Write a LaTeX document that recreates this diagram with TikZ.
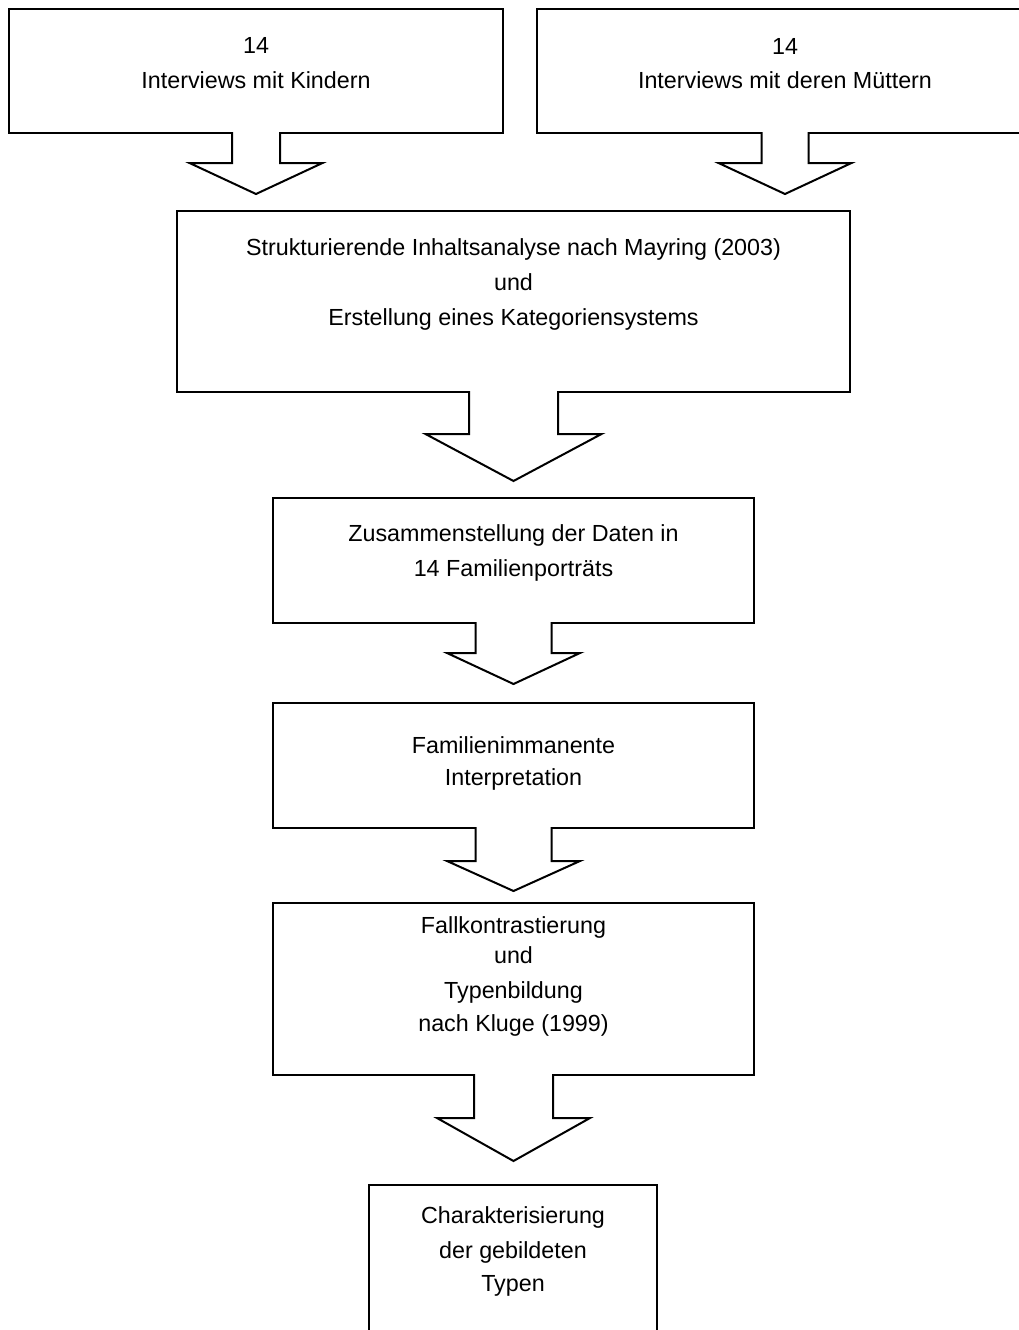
\documentclass[tikz,border=0pt]{standalone}
\usepackage{fontspec}
\setmainfont{Liberation Sans}
\usetikzlibrary{calc}
\tikzset{
  box/.style={draw=black, line width=2pt, fill=white, inner sep=0pt, outer sep=0pt},
  ln/.style={inner sep=0pt, outer sep=0pt, text height=16.8pt, text depth=0pt, anchor=center, font=\fontsize{23.3pt}{28pt}\selectfont},
  conn/.style={draw=black, line width=2pt, line join=miter}
}
\newcommand\blockarr[6]{%
  \path (#1.south) ++(0,#4+#6) coordinate (#2);
  \fill[white] ($(#1.south)+(-#3,-2)$) -- ($(#1.south)+(-#3,#4)$) -- ($(#1.south)+(-#5,#4)$) -- (#2)
     -- ($(#1.south)+(#5,#4)$) -- ($(#1.south)+(#3,#4)$) -- ($(#1.south)+(#3,-2)$) -- cycle;
  \draw[conn] ($(#1.south)+(-#3,-1)$) -- ($(#1.south)+(-#3,#4)$) -- ($(#1.south)+(-#5,#4)$) -- (#2)
     -- ($(#1.south)+(#5,#4)$) -- ($(#1.south)+(#3,#4)$) -- ($(#1.south)+(#3,-1)$);
}
\begin{document}
\begin{tikzpicture}[x=1pt,y=-1pt]
\useasboundingbox (0,0) rectangle (1019,1330);
\clip (0,0) rectangle (1019,1330);
% boxes
\node[box, minimum width=494pt, minimum height=124pt] (b1) at (256,71) {};
\node[box, minimum width=496pt, minimum height=124pt] (b2) at (785,71) {};
\node[box, minimum width=673pt, minimum height=181pt] (b3) at (513.5,301.5) {};
\node[box, minimum width=481pt, minimum height=125pt] (b4) at (513.5,560.5) {};
\node[box, minimum width=481pt, minimum height=125pt] (b5) at (513.5,765.5) {};
\node[box, minimum width=481pt, minimum height=172pt] (b6) at (513.5,989) {};
\node[box, minimum width=288pt, minimum height=160pt] (b7) at (513,1265) {};
% block arrows
\blockarr{b1}{tip1}{24}{30}{66.5}{31}
\blockarr{b2}{tip2}{23.5}{30}{66.5}{31}
\blockarr{b3}{tip3}{44.5}{42}{88}{47}
\blockarr{b4}{tip4}{38}{30}{66.5}{31}
\blockarr{b5}{tip5}{38}{33}{66.5}{30}
\blockarr{b6}{tip6}{39.5}{43}{76.5}{43}
% texts
\node[ln] (b1l1) at (256,45) {14};
\node[ln] (b1l2) at (256,80) {Interviews mit Kindern};
\node[ln] (b2l1) at (785,46) {14};
\node[ln] (b2l2) at (785,80) {Interviews mit deren Müttern};
\node[ln] (b3l1) at (513.5,247) {Strukturierende Inhaltsanalyse nach Mayring (2003)};
\node[ln] (b3l2) at (513.5,282) {und};
\node[ln] (b3l3) at (513.5,317) {Erstellung eines Kategoriensystems};
\node[ln] (b4l1) at (513.5,533) {Zusammenstellung der Daten in};
\node[ln] (b4l2) at (513.5,568) {14 Familienporträts};
\node[ln] (b5l1) at (513.5,745) {Familienimmanente};
\node[ln] (b5l2) at (513.5,777) {Interpretation};
\node[ln] (b6l1) at (513.5,925) {Fallkontrastierung};
\node[ln] (b6l2) at (513.5,955) {und};
\node[ln] (b6l3) at (513.5,990) {Typenbildung};
\node[ln] (b6l4) at (513.5,1023) {nach Kluge (1999)};
\node[ln] (b7l1) at (513,1215) {Charakterisierung};
\node[ln] (b7l2) at (513,1250) {der gebildeten};
\node[ln] (b7l3) at (513,1283) {Typen};
\end{tikzpicture}
\end{document}
